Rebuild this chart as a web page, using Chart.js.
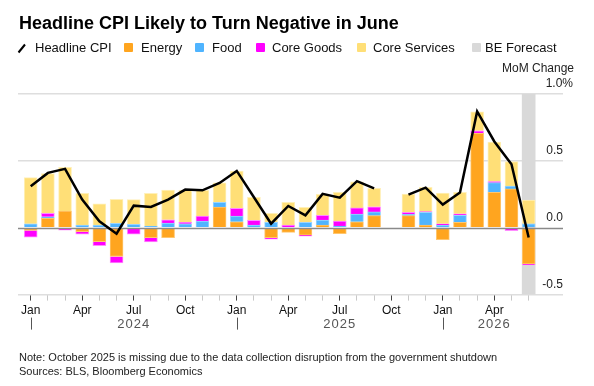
<!DOCTYPE html>
<html>
<head>
<meta charset="utf-8">
<script src="https://cdn.jsdelivr.net/npm/chart.js@4.4.1/dist/chart.umd.min.js"></script>
<style>
  body { margin: 0; background: #fff; font-family: "Liberation Sans", Arial, sans-serif; }
  #wrap { position: relative; width: 594px; height: 386px; overflow: hidden; }
  #chart { position: absolute; left: 0; top: 0; }
  .title { position: absolute; left: 19px; top: 14px; font-size: 18px; line-height: 18px; font-weight: bold; color: #000; white-space: nowrap; }
  .leg { position: absolute; top: 41px; font-size: 13px; line-height: 13px; color: #111; white-space: nowrap; }
  .sw { position: absolute; top: 43px; width: 9px; height: 9px; border-radius: 1px; }
  .note { position: absolute; left: 19px; top: 350px; font-size: 11px; line-height: 14px; color: #222; white-space: nowrap; }
</style>
</head>
<body>
<div id="wrap">
  <canvas id="chart" width="594" height="386"></canvas>
  <div class="title">Headline CPI Likely to Turn Negative in June</div>

  <svg style="position:absolute;left:17px;top:43px" width="10" height="11"><line x1="1.5" y1="9.5" x2="8" y2="1.5" stroke="#000" stroke-width="2"/></svg>
  <div class="leg" style="left:35px">Headline CPI</div>
  <div class="sw" style="left:124px;background:#ffa51f"></div>
  <div class="leg" style="left:141px">Energy</div>
  <div class="sw" style="left:195px;background:#4fb4ff"></div>
  <div class="leg" style="left:212px">Food</div>
  <div class="sw" style="left:256px;background:#ff00ff"></div>
  <div class="leg" style="left:272px">Core Goods</div>
  <div class="sw" style="left:357px;background:#ffdf77"></div>
  <div class="leg" style="left:373px">Core Services</div>
  <div class="sw" style="left:472px;background:#d9d9d9"></div>
  <div class="leg" style="left:485px">BE Forecast</div>

  <div class="note">Note: October 2025 is missing due to the data collection disruption from the government shutdown<br>Sources: BLS, Bloomberg Economics</div>
</div>

<script>
// months Jan 2024 .. Jun 2026 (Oct 2025 missing)
const months = [
  "2024-01","2024-02","2024-03","2024-04","2024-05","2024-06","2024-07","2024-08","2024-09","2024-10","2024-11","2024-12",
  "2025-01","2025-02","2025-03","2025-04","2025-05","2025-06","2025-07","2025-08","2025-09","2025-10","2025-11","2025-12",
  "2026-01","2026-02","2026-03","2026-04","2026-05","2026-06"
];
const monthNames = ["Jan","Feb","Mar","Apr","May","Jun","Jul","Aug","Sep","Oct","Nov","Dec"];

const energy = [-0.02, 0.07, 0.125, -0.03, -0.105, -0.215, 0, -0.075, -0.075, 0, 0, 0.155,
  0.045, 0, -0.075, -0.035, -0.055, 0.02, -0.045, 0.045, 0.09, null, 0.09, 0.02,
  -0.09, 0.04, 0.705, 0.265, 0.29, -0.27];
const food = [0.03, 0.012, 0, 0.02, 0.02, 0.032, 0.025, 0.012, 0.035, 0.03, 0.05, 0.035,
  0.042, 0.02, 0.04, 0, 0.04, 0.038, 0.012, 0.058, 0.028, null, 0.01, 0.095,
  0.02, 0.052, 0, 0.072, 0.022, 0.03];
const coreGoods = [-0.05, 0.025, -0.018, -0.018, -0.03, -0.048, -0.048, -0.032, 0.025, 0.01, 0.038, 0,
  0.058, 0.035, -0.01, 0.02, -0.008, 0.035, 0.038, 0.045, 0.038, null, 0.015, 0.005,
  0.01, 0.012, 0.02, 0.008, -0.022, -0.008];
const coreServices = [0.345, 0.298, 0.327, 0.238, 0.158, 0.18, 0.185, 0.245, 0.222, 0.242, 0.192, 0.145,
  0.278, 0.172, 0.068, 0.17, 0.112, 0.157, 0.215, 0.195, 0.139, null, 0.137, 0.182,
  0.23, 0.161, 0.142, 0.295, 0.183, 0.177];
const headline = [0.31, 0.41, 0.44, 0.21, 0.048, -0.045, 0.165, 0.155, 0.21, 0.285, 0.28, 0.335,
  0.425, 0.228, 0.03, 0.163, 0.093, 0.253, 0.225, 0.348, 0.295, null, 0.248, 0.30,
  0.173, 0.263, 0.87, 0.645, 0.475, -0.073];
const forecastMonths = ["2026-06"];

const yTicks = [-0.5, 0, 0.5, 1.0];
const yMin = -0.5, yMax = 1.0;
const xMin = -0.74, xMax = 31;

const idx = months.map((m, i) => i);
const forecast = months.map(m => forecastMonths.includes(m) ? [yMin, yMax] : null);

const extras = {
  id: "extras",
  beforeDatasetDraw(chart, args) {
    if (chart.data.datasets[args.index].type !== "line") return;
    const ctx = chart.ctx, y = chart.scales.y, a = chart.chartArea;
    const py = Math.round(y.getPixelForValue(0)) + 0.5;
    ctx.save();
    ctx.strokeStyle = "#8a8a8a";
    ctx.lineWidth = 1.5;
    ctx.beginPath(); ctx.moveTo(a.left, py); ctx.lineTo(a.right, py); ctx.stroke();
    ctx.restore();
  },
  afterDraw(chart) {
    const ctx = chart.ctx, x = chart.scales.x, y = chart.scales.y, a = chart.chartArea;
    ctx.save();
    ctx.fillStyle = "#222";
    ctx.font = '12px "Liberation Sans", Arial, sans-serif';
    ctx.textBaseline = "middle";
    ctx.textAlign = "right";
    yTicks.forEach(v => {
      const py = y.getPixelForValue(v) - 10;
      if (v === yMax) ctx.fillText(v.toFixed(1) + "%", a.right + 10, py);
      else ctx.fillText(v.toFixed(1), a.right, py);
    });
    ctx.fillText("MoM Change", a.right + 11, y.getPixelForValue(yMax) - 25);

    // year row
    const years = [...new Set(months.map(m => m.slice(0, 4)))];
    ctx.font = '13px "Liberation Sans", Arial, sans-serif';
    ctx.textAlign = "center";
    ctx.fillStyle = "#555";
    ctx.letterSpacing = "1px";
    years.forEach(yr => {
      const first = months.findIndex(m => m.startsWith(yr));
      const last = months.length - 1 - [...months].reverse().findIndex(m => m.startsWith(yr));
      const mid = (first + last + 1) / 2;
      ctx.fillText(yr, x.getPixelForValue(mid), a.bottom + 30);
      const px = Math.round(x.getPixelForValue(first)) + 0.5;
      ctx.strokeStyle = "#555";
      ctx.lineWidth = 1;
      ctx.beginPath(); ctx.moveTo(px, a.bottom + 23); ctx.lineTo(px, a.bottom + 35); ctx.stroke();
    });
    ctx.restore();
  }
};

const bar = (label, data, bg, border) => ({
  type: "bar", label, data, backgroundColor: bg, borderColor: border, borderWidth: 1,
  stack: "cpi", order: 2, grouped: false, barThickness: 13
});

new Chart(document.getElementById("chart"), {
  type: "bar",
  data: {
    labels: idx,
    datasets: [
      { type: "line", label: "Headline CPI", data: headline, borderColor: "#000", borderWidth: 2.5,
        pointRadius: 0, tension: 0, spanGaps: false, stack: "line", order: 0 },
      bar("Energy", energy, "#ffa51f", "#ffc66e"),
      bar("Food", food, "#4fb4ff", "#9ad4ff"),
      bar("Core Goods", coreGoods, "#ff00ff", "#ff8cff"),
      bar("Core Services", coreServices, "#ffdf77", "#fff0b8"),
      { type: "bar", label: "BE Forecast", data: forecast, backgroundColor: "#d9d9d9", borderWidth: 0,
        stack: "fc", order: 5, grouped: false, barThickness: 13 }
    ]
  },
  options: {
    responsive: false,
    animation: false,
    layout: { padding: { left: 18, right: 31, top: 94, bottom: 65 } },
    plugins: { legend: { display: false }, tooltip: { enabled: false } },
    scales: {
      x: {
        type: "linear", stacked: true, min: xMin, max: xMax, offset: false,
        afterBuildTicks: s => { s.ticks = idx.map(v => ({ value: v })); },
        ticks: {
          autoSkip: false, maxRotation: 0, padding: 3, color: "#111",
          font: { family: '"Liberation Sans", Arial, sans-serif', size: 12 },
          callback: v => (v % 3 === 0 ? monthNames[+months[v].slice(5) - 1] : "")
        },
        grid: {
          drawOnChartArea: false, tickLength: 6, tickWidth: 1, offset: false,
          tickColor: c => (c.tick && c.tick.value % 3 === 0 ? "#444" : "#c8c8c8")
        },
        border: { display: false }
      },
      y: {
        position: "right", stacked: true, min: yMin, max: yMax,
        afterBuildTicks: s => { s.ticks = yTicks.map(v => ({ value: v })); },
        ticks: { display: false },
        grid: {
          drawTicks: false, lineWidth: 1.5,
          color: c => (c.tick && c.tick.value === 0 ? "rgba(0,0,0,0)" : "#dedede")
        },
        border: { display: false }
      }
    }
  },
  plugins: [extras]
});
</script>
</body>
</html>
